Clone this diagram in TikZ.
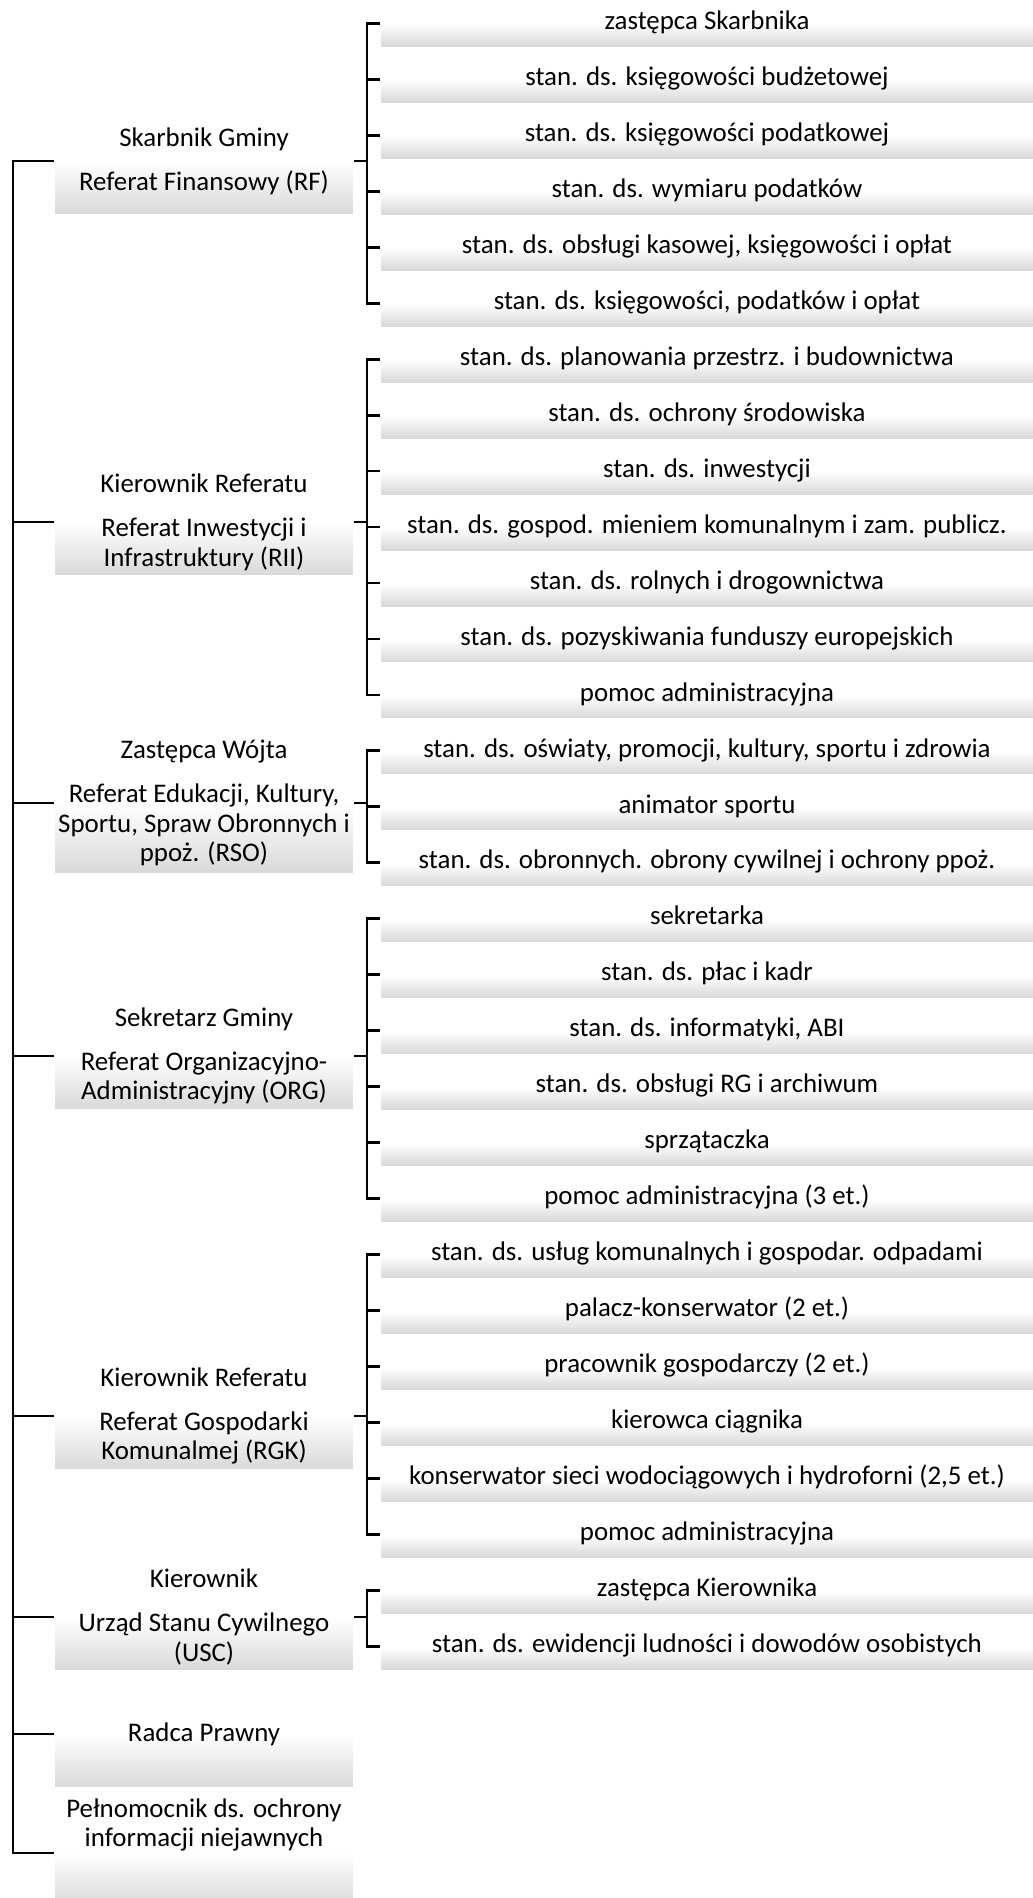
\documentclass[tikz,border=0pt]{standalone}
\usepackage{fontspec}
\setmainfont{Carlito}
\usetikzlibrary{matrix}

\begin{document}
\begin{tikzpicture}[x=0.02cm, y=-0.02cm, line width=1.6pt,
    shadebox/.style={top color=white, bottom color=black!15, middle color=white},
    unit/.style={shadebox, inner sep=0pt, minimum width=5.96cm, minimum height=2.1cm,
      align=center, font=\fontsize{15.3pt}{17pt}\selectfont},
    post/.style={shadebox, inner sep=0pt, minimum width=13.04cm, minimum height=0.92cm,
      text height=11pt, text depth=4pt, font=\fontsize{15.3pt}{17pt}\selectfont}]
    \useasboundingbox (0,0) rectangle (1033,1898);

    \matrix (m) [matrix of nodes, inner sep=0pt, row sep=0.1994cm, nodes={post}, anchor=north] at (707,-1) {
      zastępca Skarbnika \\
      stan. ds. księgowości budżetowej \\
      stan. ds. księgowości podatkowej \\
      stan. ds. wymiaru podatków \\
      stan. ds. obsługi kasowej, księgowości i opłat \\
      stan. ds. księgowości, podatków i opłat \\
      stan. ds. planowania przestrz. i budownictwa \\
      stan. ds. ochrony środowiska \\
      stan. ds. inwestycji \\
      stan. ds. gospod. mieniem komunalnym i zam. publicz. \\
      stan. ds. rolnych i drogownictwa \\
      stan. ds. pozyskiwania funduszy europejskich \\
      pomoc administracyjna \\
      stan. ds. oświaty, promocji, kultury, sportu i zdrowia \\
      animator sportu \\
      stan. ds. obronnych. obrony cywilnej i ochrony ppoż. \\
      sekretarka \\
      stan. ds. płac i kadr \\
      stan. ds. informatyki, ABI \\
      stan. ds. obsługi RG i archiwum \\
      sprzątaczka \\
      pomoc administracyjna (3 et.) \\
      stan. ds. usług komunalnych i gospodar. odpadami \\
      palacz-konserwator (2 et.) \\
      pracownik gospodarczy (2 et.) \\
      kierowca ciągnika \\
      konserwator sieci wodociągowych i hydroforni (2,5 et.) \\
      pomoc administracyjna \\
      zastępca Kierownika \\
      stan. ds. ewidencji ludności i dowodów osobistych \\
    };

    % referaty i stanowiska samodzielne
    \node [unit] (rf) at (204,161) {Skarbnik Gminy\\[0.28cm]Referat Finansowy (RF)};
    \node [unit] (rii) at (204,522) {Kierownik Referatu\\[0.28cm]Referat Inwestycji i\\Infrastruktury (RII)};
    \node [unit, minimum height=2.76cm] (rso) at (204,803) {Zastępca Wójta\\[0.28cm]Referat Edukacji, Kultury,\\Sportu, Spraw Obronnych i\\ppoż. (RSO)};
    \node [unit] (org) at (204,1056) {Sekretarz Gminy\\[0.28cm]Referat Organizacyjno-\\Administracyjny (ORG)};
    \node [unit] (rgk) at (204,1416) {Kierownik Referatu\\[0.28cm]Referat Gospodarki\\Komunalmej (RGK)};
    \node [unit] (usc) at (204,1617) {Kierownik\\[0.28cm]Urząd Stanu Cywilnego\\(USC)};
    \node [unit] (rp) at (204,1734) {Radca Prawny};
    \node [unit, label={[align=center, font=\fontsize{15.3pt}{17pt}\selectfont, yshift=0.56cm]center:Pełnomocnik ds. ochrony\\informacji niejawnych}] (pel) at (204,1853) {};

    \coordinate (sx) at (13,0);
    \coordinate (bx) at (367,0);

    % lewa linia
    \draw (rf.west) -| (sx |- pel.west) -- (pel.west);
    \draw (rii.west) -- (sx |- rii.west) (rso.west) -- (sx |- rso.west) (org.west) -- (sx |- org.west)
      (rgk.west) -- (sx |- rgk.west) (usc.west) -- (sx |- usc.west) (rp.west) -- (sx |- rp.west);

    % klamry
    \draw (rf.east) -- (bx |- rf.east);
    \draw (m-1-1.west) -| (bx |- m-6-1.west) -- (m-6-1.west);
    \draw (m-2-1.west) -- (bx |- m-2-1.west) (m-3-1.west) -- (bx |- m-3-1.west)
      (m-4-1.west) -- (bx |- m-4-1.west) (m-5-1.west) -- (bx |- m-5-1.west);

    \draw (rii.east) -- (bx |- rii.east);
    \draw (m-7-1.west) -| (bx |- m-13-1.west) -- (m-13-1.west);
    \draw (m-8-1.west) -- (bx |- m-8-1.west) (m-9-1.west) -- (bx |- m-9-1.west)
      (m-10-1.west) -- (bx |- m-10-1.west) (m-11-1.west) -- (bx |- m-11-1.west)
      (m-12-1.west) -- (bx |- m-12-1.west);

    \draw (rso.east) -- (bx |- rso.east);
    \draw (m-14-1.west) -| (bx |- m-16-1.west) -- (m-16-1.west);
    \draw (m-15-1.west) -- (bx |- m-15-1.west);

    \draw (org.east) -- (bx |- org.east);
    \draw (m-17-1.west) -| (bx |- m-22-1.west) -- (m-22-1.west);
    \draw (m-18-1.west) -- (bx |- m-18-1.west) (m-19-1.west) -- (bx |- m-19-1.west)
      (m-20-1.west) -- (bx |- m-20-1.west) (m-21-1.west) -- (bx |- m-21-1.west);

    \draw (rgk.east) -- (bx |- rgk.east);
    \draw (m-23-1.west) -| (bx |- m-28-1.west) -- (m-28-1.west);
    \draw (m-24-1.west) -- (bx |- m-24-1.west) (m-25-1.west) -- (bx |- m-25-1.west)
      (m-26-1.west) -- (bx |- m-26-1.west) (m-27-1.west) -- (bx |- m-27-1.west);

    \draw (usc.east) -- (bx |- usc.east);
    \draw (m-29-1.west) -| (bx |- m-30-1.west) -- (m-30-1.west);
  \end{tikzpicture}
\end{document}
